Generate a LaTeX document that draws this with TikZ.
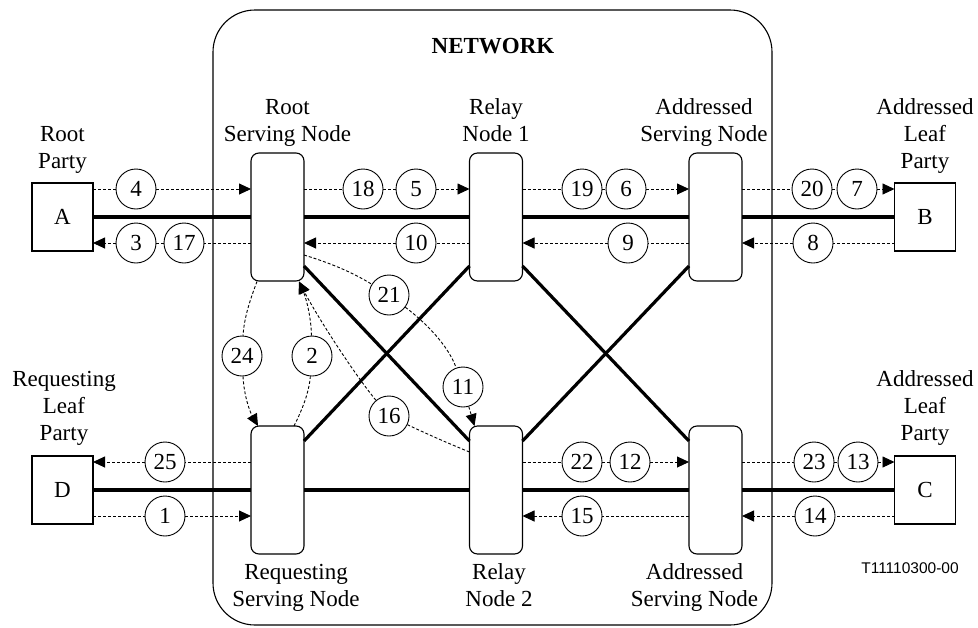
\documentclass[tikz,border=0pt]{standalone}
\usepackage{fontspec}
\setmainfont{Liberation Serif}
\newfontfamily\codefont{Liberation Sans}
\usetikzlibrary{arrows.meta,calc}

\tikzset{
  srv/.style={draw, line width=1.1pt, rounded corners=8pt, minimum width=53pt,
    minimum height=128pt, inner sep=0pt, outer sep=0pt},
  party/.style={draw, line width=1.1pt, minimum width=61pt, minimum height=68pt,
    inner sep=0pt, outer sep=0pt, font=\fontsize{23}{27}\selectfont},
  num/.style={circle, draw, fill=white, line width=0.9pt, minimum size=40pt,
    inner sep=0pt, font=\fontsize{23}{27}\selectfont},
  % multi-line labels: the base anchor sits on the last line's baseline
  lbl/.style={align=center, inner sep=0pt, font=\fontsize{23}{27}\selectfont, anchor=base},
  trunk/.style={line width=3.2pt},
  sig/.style={dash pattern=on 3pt off 2pt, line width=0.9pt},
  sigarrow/.style={sig, -{Triangle[length=12pt,width=11pt]}},
}

\begin{document}
\begin{tikzpicture}[x=1pt,y=-1pt]
\useasboundingbox (0,0) rectangle (978,627);

% network boundary
\draw[line width=1.1pt, rounded corners=42pt] (213,10) rectangle (772,625);
\node[font=\bfseries\fontsize{23}{27}\selectfont, anchor=base] (net) at (493,53) {NETWORK};

% serving and relay nodes
\node[srv] (rsn)  at (277.5,217) {};
\node[srv] (rn1)  at (496,217) {};
\node[srv] (asn1) at (715.5,217) {};
\node[srv] (qsn)  at (277.5,490) {};
\node[srv] (rn2)  at (496,490) {};
\node[srv] (asn2) at (715.5,490) {};

% parties
\node[party] (A) at (62.5,217) {A};
\node[party] (B) at (925,217) {B};
\node[party] (C) at (925,490) {C};
\node[party] (D) at (62.5,490) {D};

% labels
\node[lbl] (lRP)   at (62.5,168) {Root\\Party};
\node[lbl] (lRSN)  at (287.5,141) {Root\\Serving Node};
\node[lbl] (lRN1)  at (496,141) {Relay\\Node 1};
\node[lbl] (lASN1) at (704,141) {Addressed\\Serving Node};
\node[lbl] (lALP1) at (925,168) {Addressed\\Leaf\\Party};
\node[lbl] (lRLP)  at (64,440) {Requesting\\Leaf\\Party};
\node[lbl] (lALP2) at (925,440) {Addressed\\Leaf\\Party};
\node[lbl] (lQSN)  at (296,606) {Requesting\\Serving Node};
\node[lbl] (lRN2)  at (499,606) {Relay\\Node 2};
\node[lbl] (lASN2) at (694.5,606) {Addressed\\Serving Node};
\node[font=\codefont\fontsize{15.5}{18}\selectfont, anchor=base] (ref) at (910,573) {T11110300-00};

% trunk links
\draw[trunk] (A) -- (rsn);
\draw[trunk] (rsn) -- (rn1);
\draw[trunk] (rn1) -- (asn1);
\draw[trunk] (asn1) -- (B);
\draw[trunk] (D) -- (qsn);
\draw[trunk] (qsn) -- (rn2);
\draw[trunk] (rn2) -- (asn2);
\draw[trunk] (asn2) -- (C);
\draw[trunk] ($(rsn.south east)+(0,-15)$) -- ($(rn2.north west)+(0,15)$);
\draw[trunk] ($(qsn.north east)+(0,15)$) -- ($(rn1.south west)+(0,-15)$);
\draw[trunk] ($(rn1.south east)+(0,-15)$) -- ($(asn2.north west)+(0,15)$);
\draw[trunk] ($(rn2.north east)+(0,15)$) -- ($(asn1.south west)+(0,-15)$);

% message numbers
\node[num] (c4)  at (136,189) {4};
\node[num] (c18) at (363,189) {18};
\node[num] (c5)  at (416,189) {5};
\node[num] (c19) at (582,189) {19};
\node[num] (c6)  at (626,189) {6};
\node[num] (c20) at (812,189) {20};
\node[num] (c7)  at (857,189) {7};
\node[num] (c3)  at (136,243) {3};
\node[num] (c17) at (184,243) {17};
\node[num] (c10) at (416,243) {10};
\node[num] (c9)  at (628,243) {9};
\node[num] (c8)  at (813,243) {8};
\node[num] (c25) at (165,462) {25};
\node[num] (c22) at (582,462) {22};
\node[num] (c12) at (630,462) {12};
\node[num] (c23) at (814,462) {23};
\node[num] (c13) at (858,462) {13};
\node[num] (c1)  at (165,516) {1};
\node[num] (c15) at (582,516) {15};
\node[num] (c14) at (815,516) {14};
\node[num] (c24) at (242,356) {24};
\node[num] (c2)  at (312,356) {2};
\node[num] (c21) at (389,295) {21};
\node[num] (c11) at (463,387) {11};
\node[num] (c16) at (389,416) {16};

% horizontal messages
\draw[sigarrow] (A.east |- c4) -- (c4) -- (rsn.west |- c4);
\draw[sigarrow] (rsn.east |- c18) -- (c18) -- (c5) -- (rn1.west |- c5);
\draw[sigarrow] (rn1.east |- c19) -- (c19) -- (c6) -- (asn1.west |- c6);
\draw[sigarrow] (asn1.east |- c20) -- (c20) -- (c7) -- (B.west |- c7);
\draw[sigarrow] (rsn.west |- c17) -- (c17) -- (c3) -- (A.east |- c3);
\draw[sigarrow] (rn1.west |- c10) -- (c10) -- (rsn.east |- c10);
\draw[sigarrow] (asn1.west |- c9) -- (c9) -- (rn1.east |- c9);
\draw[sigarrow] (B.west |- c8) -- (c8) -- (asn1.east |- c8);
\draw[sigarrow] (qsn.west |- c25) -- (c25) -- (D.east |- c25);
\draw[sigarrow] (D.east |- c1) -- (c1) -- (qsn.west |- c1);
\draw[sigarrow] (rn2.east |- c22) -- (c22) -- (c12) -- (asn2.west |- c12);
\draw[sigarrow] (asn2.east |- c23) -- (c23) -- (c13) -- (C.west |- c13);
\draw[sigarrow] (asn2.west |- c15) -- (c15) -- (rn2.east |- c15);
\draw[sigarrow] (C.west |- c14) -- (c14) -- (asn2.east |- c14);

% curved messages between the serving nodes
\coordinate (s24) at ($(rsn.south west)+(6,0.5)$);
\coordinate (e24) at ($(qsn.north west)+(7,0)$);
\coordinate (s2)  at ($(qsn.north west)+(43,0)$);
\coordinate (e2)  at ($(rsn.south east)+(-5,0.5)$);
\coordinate (s16) at ($(rn2.west)+(0,-38)$);
\coordinate (s21) at ($(rsn.east)+(0,38)$);
\coordinate (e11) at ($(rn2.north west)+(5,0)$);

\draw[sig] (s24) .. controls (250,300) and (244,318) .. (c24);
\draw[sigarrow] (c24) .. controls (244,396) and (250,412) .. (e24);
\draw[sig] (s2) .. controls (302,410) and (309,393) .. (c2);
\draw[sigarrow] (c2) .. controls (311,316) and (306,298) .. (e2);
\draw[sig] (s16) .. controls (445,442) and (425,433) .. (c16);
\draw[sigarrow] (c16) .. controls (355,375) and (318,318) .. (e2);
\draw[sig] (s21) .. controls (330,263) and (352,272) .. (c21);
\draw[sig] (c21) .. controls (425,322) and (448,345) .. (c11);
\draw[sigarrow] (c11) -- (e11);
\end{tikzpicture}
\end{document}
